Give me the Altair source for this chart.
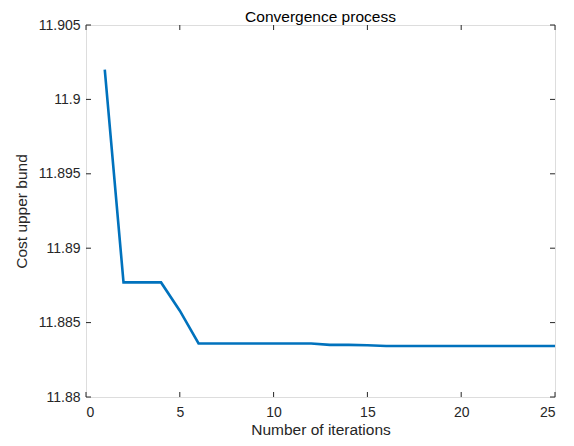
import altair as alt
import pandas as pd

iterations = list(range(1, 26))
cost = [11.9020, 11.8877, 11.8877, 11.8877, 11.8858, 11.8836, 11.8836, 11.8836,
        11.8836, 11.8836, 11.8836, 11.8836, 11.88350, 11.88350, 11.88348,
        11.88343, 11.88343, 11.88343, 11.88343, 11.88343, 11.88343, 11.88343,
        11.88343, 11.88343, 11.88343]
x_ticks = [0, 5, 10, 15, 20, 25]
y_ticks = [11.88, 11.885, 11.89, 11.895, 11.9, 11.905]

df = pd.DataFrame({"it": iterations, "cost": cost})
xt = pd.DataFrame({"v": x_ticks})
yt = pd.DataFrame({"v": y_ticks})

W, H = 469, 372
FONT = "Liberation Sans"
DARK = "#262626"
TICKFS = 14
TITLEFS = 15.5

xs = alt.Scale(domain=[0, 25], nice=False, zero=False)
ys = alt.Scale(domain=[11.88, 11.905], nice=False, zero=False)

line = alt.Chart(df).mark_line(color="#0072BD", strokeWidth=2.6).encode(
    x=alt.X("it:Q", scale=xs,
            axis=alt.Axis(title="Number of iterations", values=x_ticks, grid=False,
                          tickSize=0, labelPadding=8, domain=False,
                          labelFontSize=TICKFS, titleFontSize=TITLEFS, titlePadding=3,
                          labelColor=DARK, titleColor=DARK, titleFontWeight="normal",
                          labelFont=FONT, titleFont=FONT)),
    y=alt.Y("cost:Q", scale=ys,
            axis=alt.Axis(title="Cost upper bund", values=y_ticks, grid=False,
                          tickSize=0, labelPadding=6, domain=False,
                          labelFontSize=TICKFS, titleFontSize=TITLEFS, titlePadding=9,
                          labelColor=DARK, titleColor=DARK, titleFontWeight="normal",
                          labelFont=FONT, titleFont=FONT,
                          labelExpr="format(datum.value, '.4~f')")),
)

tick_len = 5
xb = alt.Chart(xt).mark_rule(color=DARK, strokeWidth=1).encode(
    x=alt.X("v:Q", scale=xs), y=alt.value(H), y2=alt.value(H - tick_len))
xtop = alt.Chart(xt).mark_rule(color=DARK, strokeWidth=1).encode(
    x=alt.X("v:Q", scale=xs), y=alt.value(0), y2=alt.value(tick_len))
yl = alt.Chart(yt).mark_rule(color=DARK, strokeWidth=1).encode(
    y=alt.Y("v:Q", scale=ys), x=alt.value(0), x2=alt.value(tick_len))
yr = alt.Chart(yt).mark_rule(color=DARK, strokeWidth=1).encode(
    y=alt.Y("v:Q", scale=ys), x=alt.value(W), x2=alt.value(W - tick_len))

chart = alt.layer(line, xb, xtop, yl, yr).properties(
    width=W, height=H,
    title=alt.TitleParams("Convergence process", fontSize=TITLEFS, font=FONT,
                          fontWeight="normal", color="#000000", offset=-7.5),
    autosize=alt.AutoSizeParams(type="none"),
    padding={"left": 78, "top": 17, "right": 10, "bottom": 40},
).configure_view(stroke=DARK, strokeWidth=1).configure(background="white")

chart.save("out.html", embed_options={"renderer": "svg", "actions": False})
